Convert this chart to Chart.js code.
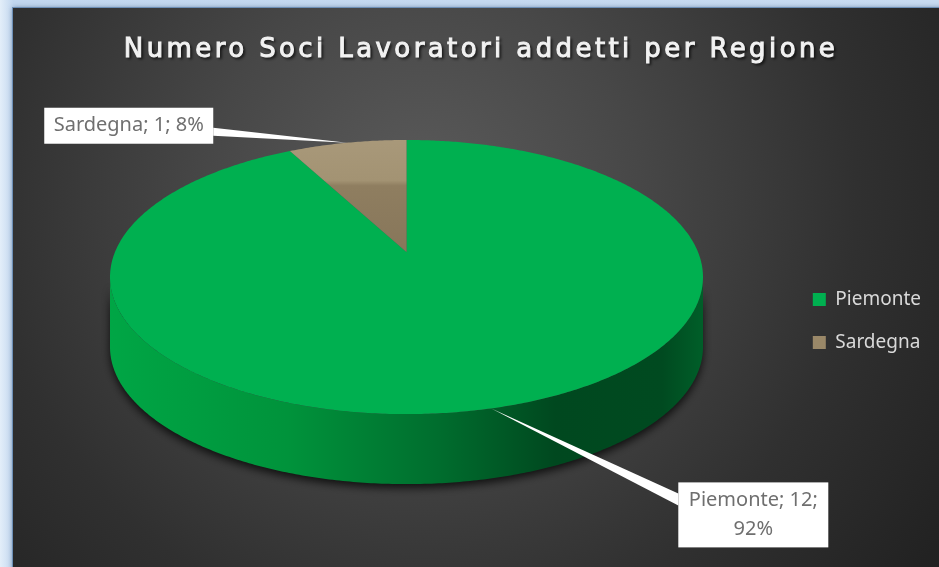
<!DOCTYPE html>
<html lang="it">
<head>
<meta charset="utf-8">
<title>Numero Soci Lavoratori addetti per Regione</title>
<script src="https://cdn.jsdelivr.net/npm/chart.js@4.4.1/dist/chart.umd.min.js"></script>
<style>
  html, body { margin: 0; padding: 0; overflow: hidden; }
  body {
    width: 939px;
    height: 567px;
    position: relative;
    background: linear-gradient(90deg, #e3eef9 0%, #c2d7ef 1.4%, #c8dbf1 100%);
  }
  .frame {
    position: absolute;
    left: 13px;
    top: 8px;
    width: 934px;
    height: 570px;
    background: #2a2a2a;
    box-shadow: -1px -1px 0 #6d8fb6, 0 0 5px rgba(30, 60, 100, 0.6);
  }
  canvas { display: block; }
</style>
</head>
<body>
<div class="frame"><canvas id="chart" width="934" height="570"></canvas></div>
<script>
const chartTitle = 'Numero Soci Lavoratori addetti per Regione';
const regions = ['Piemonte', 'Sardegna'];
const soci = [12, 1];

const sliceColors = ['#00b050', '#9a8868'];

// tilted pie seen in perspective, extruded downwards
const view = { cx: 393.5, cy: 244, rx: 291.5, ry: 132.5, persp: 0.1827, depth: 70 };

function project(angle, frac) {
  const u = frac * Math.cos(angle);
  const v = -frac * Math.sin(angle);
  const w = 1 + view.persp * v;
  return [view.cx + (view.rx * u) / w, view.cy - (view.ry * v) / w];
}

function slicePath(ctx, a0, a1) {
  const c = project(0, 0);
  const n = Math.max(2, Math.ceil((a1 - a0) / 0.01));
  ctx.beginPath();
  ctx.moveTo(c[0], c[1]);
  for (let i = 0; i <= n; i++) {
    const p = project(a0 + ((a1 - a0) * i) / n, 1);
    ctx.lineTo(p[0], p[1]);
  }
  ctx.closePath();
}

function wallPath(ctx, a0, a1) {
  const n = Math.max(2, Math.ceil((a1 - a0) / 0.01));
  ctx.beginPath();
  for (let i = 0; i <= n; i++) {
    const p = project(a0 + ((a1 - a0) * i) / n, 1);
    i === 0 ? ctx.moveTo(p[0], p[1]) : ctx.lineTo(p[0], p[1]);
  }
  for (let i = n; i >= 0; i--) {
    const p = project(a0 + ((a1 - a0) * i) / n, 1);
    ctx.lineTo(p[0], p[1] + view.depth);
  }
  ctx.closePath();
}

function topFill(ctx, index) {
  if (index === 1) {
    const g = ctx.createLinearGradient(0, view.cy - view.ry, 0, view.cy);
    g.addColorStop(0, '#ab9b7d');
    g.addColorStop(0.46, '#a39373');
    g.addColorStop(0.5, '#8f7e60');
    g.addColorStop(1, '#87765a');
    return g;
  }
  return sliceColors[index];
}

function wallFill(ctx) {
  const x0 = view.cx - view.rx * 1.02;
  const x1 = view.cx + view.rx * 1.02;
  const g = ctx.createLinearGradient(x0, 0, x1, 0);
  g.addColorStop(0, '#00a645');
  g.addColorStop(0.3, '#00933b');
  g.addColorStop(0.55, '#006e2e');
  g.addColorStop(0.75, '#00481f');
  g.addColorStop(0.93, '#004a20');
  g.addColorStop(1, '#005f29');
  return g;
}

const backdrop = {
  id: 'backdrop',
  beforeDraw(chart) {
    const { ctx, width, height } = chart;
    ctx.save();
    const g = ctx.createRadialGradient(410, 190, 0, 410, 190, 620);
    g.addColorStop(0, '#5b5b5b');
    g.addColorStop(0.35, '#474747');
    g.addColorStop(0.7, '#303030');
    g.addColorStop(1, '#222222');
    ctx.fillStyle = g;
    ctx.fillRect(0, 0, width, height);

    ctx.font = '26px "DejaVu Sans"';
    ctx.letterSpacing = '3.4px';
    ctx.textAlign = 'center';
    ctx.textBaseline = 'alphabetic';
    ctx.shadowColor = 'rgba(0, 0, 0, 0.85)';
    ctx.shadowBlur = 3;
    ctx.shadowOffsetX = 2;
    ctx.shadowOffsetY = 2;
    ctx.fillStyle = '#f2f2f2';
    ctx.fillText(chartTitle, 468, 49);
    ctx.shadowColor = 'transparent';
    ctx.strokeStyle = '#f2f2f2';
    ctx.lineWidth = 1;
    ctx.strokeText(chartTitle, 468, 49);
    ctx.restore();
  },
};

const pie3d = {
  id: 'pie3d',
  beforeDatasetsDraw(chart) {
    const { ctx } = chart;
    const arcs = chart.getDatasetMeta(0).data;
    const front0 = Math.asin(view.persp);
    const front1 = Math.PI - front0;

    ctx.save();
    // side walls first, only the part facing the viewer
    arcs.forEach((arc) => {
      for (const shift of [0, 2 * Math.PI]) {
        const a0 = Math.max(arc.startAngle, front0 + shift);
        const a1 = Math.min(arc.endAngle, front1 + shift);
        if (a1 <= a0) continue;
        ctx.save();
        ctx.shadowColor = 'rgba(0, 0, 0, 0.75)';
        ctx.shadowBlur = 9;
        ctx.shadowOffsetY = 4;
        wallPath(ctx, a0 - shift, a1 - shift);
        ctx.fillStyle = wallFill(ctx);
        ctx.fill();
        ctx.restore();
      }
    });
    arcs.forEach((arc, i) => {
      slicePath(ctx, arc.startAngle, arc.endAngle);
      ctx.fillStyle = topFill(ctx, i);
      ctx.fill();
    });
    ctx.restore();
    return false;
  },
};

function wrapText(ctx, text, maxWidth) {
  const words = text.split(' ');
  const lines = [];
  let line = '';
  words.forEach((w) => {
    const test = line ? line + ' ' + w : w;
    if (line && ctx.measureText(test).width > maxWidth) {
      lines.push(line);
      line = w;
    } else line = test;
  });
  lines.push(line);
  return lines;
}

// callout boxes relative to the slice tip
const callouts = [
  { dx: 187, dy: 74, w: 150, h: 65, side: 'left', base: [11, 23] },
  { dx: -134, dy: -35, w: 169, h: 36, side: 'right', base: [20, 28] },
];

const dataLabels = {
  id: 'dataLabels',
  afterDraw(chart) {
    const { ctx } = chart;
    const arcs = chart.getDatasetMeta(0).data;
    const values = chart.data.datasets[0].data;
    const total = values.reduce((s, v) => s + v, 0);

    ctx.save();
    ctx.font = '20px "Noto Sans"';
    arcs.forEach((arc, i) => {
      const mid = (arc.startAngle + arc.endAngle) / 2;
      const tip = project(mid, 1);
      const c = callouts[i];
      const left = c.side === 'left' ? tip[0] + c.dx : tip[0] + c.dx - c.w;
      const top = tip[1] + c.dy;
      const edge = c.side === 'left' ? left : left + c.w;

      ctx.fillStyle = '#ffffff';
      ctx.beginPath();
      ctx.moveTo(tip[0], tip[1]);
      ctx.lineTo(edge, top + c.base[0]);
      ctx.lineTo(edge, top + c.base[1]);
      ctx.closePath();
      ctx.fill();
      ctx.fillRect(left, top, c.w, c.h);

      const pct = Math.round((values[i] / total) * 100);
      const text = `${chart.data.labels[i]}; ${values[i]}; ${pct}%`;
      const lines = wrapText(ctx, text, c.w - 10);
      const lineH = 29;
      ctx.fillStyle = '#6f6f6f';
      ctx.textAlign = 'center';
      ctx.textBaseline = 'middle';
      const y0 = top + c.h / 2 - ((lines.length - 1) * lineH) / 2;
      lines.forEach((ln, k) => ctx.fillText(ln, left + c.w / 2, y0 + k * lineH));
    });
    ctx.restore();
  },
};

new Chart(document.getElementById('chart'), {
  type: 'pie',
  data: {
    labels: regions,
    datasets: [
      {
        data: soci,
        backgroundColor: sliceColors,
        borderWidth: 0,
      },
    ],
  },
  plugins: [backdrop, pie3d, dataLabels],
  options: {
    responsive: false,
    animation: false,
    events: [],
    layout: { padding: { top: 56, right: 16, bottom: 0, left: 0 } },
    plugins: {
      tooltip: { enabled: false },
      title: { display: false },
      legend: {
        position: 'right',
        labels: {
          color: '#d9d9d9',
          font: { family: 'Noto Sans', size: 19 },
          boxWidth: 13,
          boxHeight: 13,
          padding: 24,
        },
      },
    },
  },
});
</script>
</body>
</html>
